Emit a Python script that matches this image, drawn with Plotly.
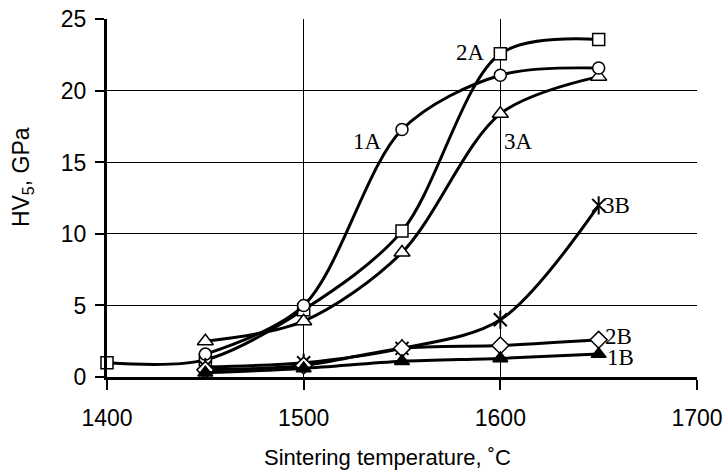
import plotly.graph_objects as go

temps = [1450, 1500, 1550, 1600, 1650]
temps_2a = [1400, 1450, 1500, 1550, 1600, 1650]

hv_1a = [1.6, 5.0, 17.3, 21.1, 21.6]
hv_2a = [1.0, 1.2, 4.7, 10.2, 22.6, 23.6]
hv_3a = [2.5, 3.9, 8.7, 18.4, 21.0]
hv_1b = [0.3, 0.6, 1.1, 1.3, 1.6]
hv_2b = [0.5, 0.8, 2.0, 2.2, 2.6]
hv_3b = [0.7, 1.0, 2.0, 4.0, 12.0]

labels = ["1A", "2A", "3A", "1B", "2B", "3B"]
label_x = [1541, 1593, 1601, 1653, 1652, 1651]
label_y = [16.5, 22.7, 16.5, 1.35, 2.8, 12.0]
label_anchor = ["right", "right", "left", "left", "left", "left"]

fig = go.Figure()
line = dict(color="black", width=3, shape="spline", smoothing=0.9)


def add(x, y, symbol, size, fill="white", lw=1.5):
    fig.add_trace(go.Scatter(
        x=x, y=y, mode="lines+markers", line=line,
        marker=dict(symbol=symbol, size=size, color=fill,
                    line=dict(color="black", width=lw)),
        showlegend=False, hoverinfo="skip", cliponaxis=False))


add(temps_2a, hv_2a, "square", 12)
add(temps, hv_3a, "triangle-up", 14)
add(temps, hv_1a, "circle", 12)
add(temps, hv_3b, "x-thin", 13, lw=2)
fig.add_trace(go.Scatter(x=temps, y=hv_3b, mode="markers",
                         marker=dict(symbol="line-ns", size=13,
                                     line=dict(color="black", width=2)),
                         showlegend=False, hoverinfo="skip"))
add(temps, hv_2b, "diamond", 13)
add(temps, hv_1b, "triangle-up", 13, fill="black")

for t, x, y, a in zip(labels, label_x, label_y, label_anchor):
    fig.add_annotation(x=x, y=y, text=t, showarrow=False, xanchor=a,
                       yanchor="middle",
                       font=dict(family="Liberation Serif", size=23, color="black"))

fig.add_annotation(xref="paper", yref="paper", x=0.476, y=-0.2235,
                   text="Sintering temperature, ˚C", showarrow=False,
                   xanchor="center", yanchor="middle",
                   font=dict(family="Liberation Sans", size=22, color="black"))
fig.add_annotation(xref="paper", yref="paper", x=-0.142, y=0.559,
                   text="HV<sub>5</sub>, GPa", showarrow=False, textangle=-90,
                   xanchor="center", yanchor="middle",
                   font=dict(family="Liberation Sans", size=23, color="black"))

fig.update_xaxes(range=[1400, 1700], dtick=100, tick0=1400,
                 showgrid=True, gridcolor="black", gridwidth=1,
                 showline=True, linecolor="black", linewidth=3,
                 ticks="outside", ticklen=10, tickwidth=2, tickcolor="black",
                 ticklabelstandoff=8, automargin=False,
                 tickfont=dict(family="Liberation Sans", size=23, color="black"),
                 zeroline=False)
fig.update_yaxes(range=[0, 25.03], dtick=5, tick0=0,
                 showgrid=True, gridcolor="black", gridwidth=1,
                 showline=True, linecolor="black", linewidth=3,
                 ticks="outside", ticklen=9, tickwidth=2, tickcolor="black",
                 ticklabelstandoff=4, automargin=False,
                 tickfont=dict(family="Liberation Sans", size=23, color="black"),
                 zeroline=False)

fig.update_layout(width=728, height=475,
                  margin=dict(l=107, r=31, t=19, b=98, autoexpand=False),
                  paper_bgcolor="white", plot_bgcolor="white",
                  showlegend=False)

fig.write_html("out.html", config={"displayModeBar": False},
               post_script="document.body.style.margin='0';"
                           "document.body.style.overflow='hidden';")
